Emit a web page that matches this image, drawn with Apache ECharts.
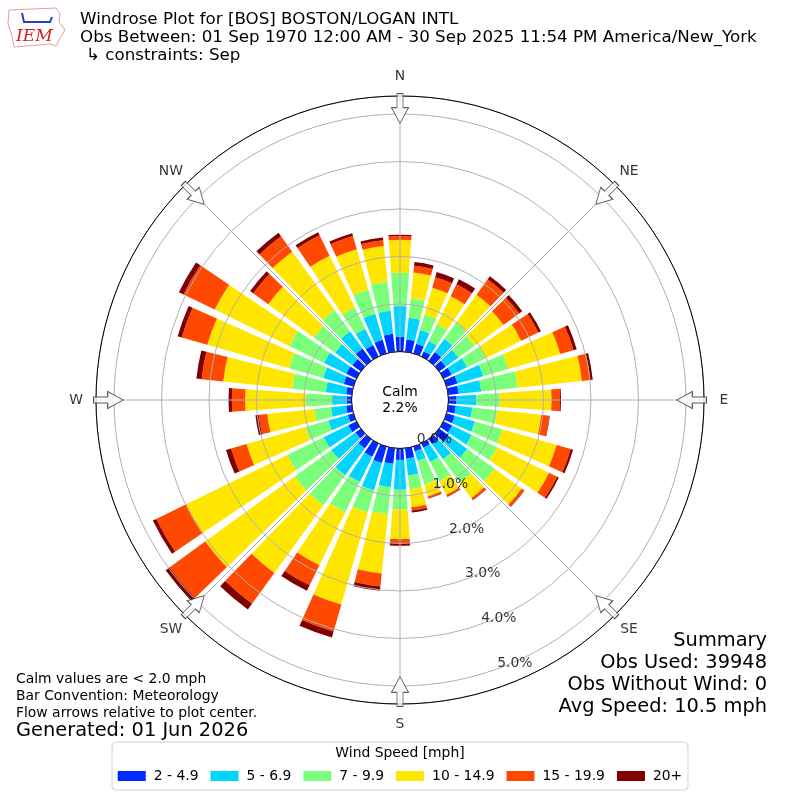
<!DOCTYPE html>
<html>
<head>
<meta charset="utf-8">
<script src="https://cdn.jsdelivr.net/npm/echarts@6/dist/echarts.min.js"></script>
<style>
  html, body { margin: 0; padding: 0; background: #fff; }
  #chart { width: 800px; height: 800px; }
</style>
</head>
<body>
<div id="chart"></div>
<script>
// direction bins (degrees, meteorological "from")
const dirs = [0, 10, 20, 30, 40, 50, 60, 70, 80, 90, 100, 110, 120, 130, 140, 150, 160, 170,
  180, 190, 200, 210, 220, 230, 240, 250, 260, 270, 280, 290, 300, 310, 320, 330, 340, 350]

// percent of obs per speed bin, one value per direction
const speed2to5 = [0.31, 0.26, 0.21, 0.12, 0.23, 0.17, 0.19, 0.24, 0.22, 0.17, 0.16, 0.18, 0.20, 0.25, 0.13, 0.10, 0.10, 0.22,
  0.24, 0.33, 0.36, 0.31, 0.24, 0.14, 0.19, 0.12, 0.12, 0.10, 0.12, 0.21, 0.24, 0.22, 0.32, 0.27, 0.30, 0.38]
const speed5to7 = [0.65, 0.46, 0.30, 0.24, 0.34, 0.33, 0.36, 0.56, 0.48, 0.42, 0.35, 0.44, 0.46, 0.48, 0.39, 0.33, 0.21, 0.36,
  0.63, 0.50, 0.60, 0.59, 0.70, 0.63, 0.58, 0.43, 0.32, 0.31, 0.43, 0.45, 0.52, 0.45, 0.45, 0.38, 0.57, 0.49]
const speed7to10 = [0.70, 0.41, 0.34, 0.40, 0.43, 0.42, 0.44, 0.55, 0.77, 0.49, 0.53, 0.60, 0.59, 0.71, 0.61, 0.45, 0.52, 0.29,
  0.42, 0.57, 0.48, 0.71, 0.78, 0.95, 0.85, 0.50, 0.36, 0.55, 0.71, 0.75, 0.81, 0.55, 0.55, 0.50, 0.53, 0.61]
const speed10to15 = [0.69, 0.55, 0.59, 0.65, 0.72, 0.75, 0.83, 1.14, 1.36, 1.09, 0.93, 1.19, 1.22, 0.71, 0.40, 0.32, 0.26, 0.38,
  0.62, 1.25, 2.02, 1.24, 1.76, 2.33, 2.37, 1.29, 0.99, 1.28, 1.46, 1.79, 1.75, 1.19, 1.52, 1.21, 0.88, 0.76]
const speed15to20 = [0.08, 0.14, 0.23, 0.28, 0.40, 0.41, 0.40, 0.29, 0.18, 0.18, 0.17, 0.31, 0.19, 0.06, 0.05, 0.04, 0.04, 0.07,
  0.08, 0.28, 0.59, 0.47, 0.80, 0.93, 0.70, 0.34, 0.18, 0.28, 0.46, 0.56, 0.73, 0.39, 0.40, 0.48, 0.29, 0.12]
const speed20up = [0.03, 0.08, 0.11, 0.12, 0.08, 0.08, 0.06, 0.07, 0.05, 0.02, 0.01, 0.05, 0.04, 0.01, 0.01, 0.01, 0.01, 0.04,
  0.06, 0.09, 0.13, 0.13, 0.15, 0.10, 0.08, 0.11, 0.07, 0.07, 0.11, 0.09, 0.11, 0.08, 0.09, 0.07, 0.06, 0.06]

const binNames = ['2 - 4.9', '5 - 6.9', '7 - 9.9', '10 - 14.9', '15 - 19.9', '20+']
const binColors = ['#002aff', '#00d4ff', '#7bff7b', '#ffe600', '#ff4800', '#800000']

const compassAngles = [0, 45, 90, 135, 180, 225, 270, 315]
const compassNames = ['N', 'NE', 'E', 'SE', 'S', 'SW', 'W', 'NW']
const radiusTicks = [0, 1, 2, 3, 4, 5]

const calmPct = 2.2
const titleLines = [
  'Windrose Plot for [BOS] BOSTON/LOGAN INTL',
  'Obs Between: 01 Sep 1970 12:00 AM - 30 Sep 2025 11:54 PM America/New_York',
  '\u21b3 constraints: Sep'
]
const summaryLines = ['Summary', 'Obs Used: 39948', 'Obs Without Wind: 0', 'Avg Speed: 10.5 mph']
const noteLines = ['Calm values are < 2.0 mph', 'Bar Convention: Meteorology', 'Flow arrows relative to plot center.']

const FONT = 'DejaVu Sans'
const R_INNER = 48.5
const R_OUTER = 304
const R_MAX = 5.38
// px per percent = (R_OUTER - R_INNER) / R_MAX ; label polar reaches further out
const R_LABEL_OUTER = 340
const R_LABEL_MAX = (R_LABEL_OUTER - R_INNER) / ((R_OUTER - R_INNER) / R_MAX)

var myChart = echarts.init(document.getElementById('chart'))

const binData = [speed2to5, speed5to7, speed7to10, speed10to15, speed15to20, speed20up]

var barSeries = binNames.map((name, i) => {
  return {
    name: name,
    type: 'bar',
    coordinateSystem: 'polar',
    polarIndex: 0,
    stack: 'speed',
    barCategoryGap: '20%',
    data: binData[i],
    itemStyle: { color: binColors[i] },
    z: 2
  }
})

var graphics = []
titleLines.forEach((t, i) => {
  graphics.push({
    type: 'text', left: i == 2 ? 86 : 80, top: 11 + i * 18,
    style: { text: t, font: '16.7px "' + FONT + '"', fill: '#000' }
  })
})
summaryLines.forEach((t, i) => {
  graphics.push({
    type: 'text', right: 33, top: 631 + i * 22,
    style: { text: t, font: '19.4px "' + FONT + '"', fill: '#000' }
  })
})
noteLines.forEach((t, i) => {
  graphics.push({
    type: 'text', left: 16, top: 672 + i * 17,
    style: { text: t, font: '13.9px "' + FONT + '"', fill: '#000' }
  })
})
graphics.push({
  type: 'text', left: 16, top: 721,
  style: { text: 'Generated: 01 Jun 2026', font: '19.4px "' + FONT + '"', fill: '#000' }
})
// calm text in the hole
graphics.push({
  type: 'text', x: 400, y: 400,
  style: { text: 'Calm\n' + calmPct.toFixed(1) + '%', font: '13.9px "' + FONT + '"', fill: '#000',
    align: 'center', verticalAlign: 'middle', lineHeight: 16 },
  z: 20
})
// legend frame + title
graphics.push({
  type: 'rect', shape: { x: 112, y: 742, width: 576, height: 48, r: 4 },
  style: { fill: '#fff', stroke: '#d0d0d0', lineWidth: 1 }, z: 0
})
graphics.push({
  type: 'text', x: 400, y: 753,
  style: { text: 'Wind Speed [mph]', font: '13.9px "' + FONT + '"', fill: '#000', align: 'center', verticalAlign: 'middle' },
  z: 1
})
// rough IEM logo
graphics.push({
  type: 'polygon',
  shape: { points: [[9, 10], [56, 8], [60, 14], [59, 22], [65, 30], [60, 38], [56, 46], [50, 44], [14, 47], [12, 36], [8, 24]] },
  style: { fill: '#fff', stroke: '#e3a0a0', lineWidth: 1 }
})
graphics.push({
  type: 'polyline',
  shape: { points: [[22, 13], [24, 22], [50, 22], [52, 17]] },
  style: { stroke: '#2a3fc0', lineWidth: 2, fill: null }
})
graphics.push({
  type: 'text', left: 16, top: 28,
  style: { text: 'IEM', font: 'italic 17px "DejaVu Serif"', fill: '#d02020' }
})

const option = {
  animation: false,
  backgroundColor: '#fff',
  textStyle: { fontFamily: FONT },
  polar: [
    { center: [400, 400], radius: [R_INNER, R_OUTER] },
    { center: [400, 400], radius: [R_INNER, R_OUTER] },
    { center: [400, 400], radius: [R_INNER, R_LABEL_OUTER] }
  ],
  angleAxis: [
    {
      polarIndex: 0,
      type: 'category',
      data: dirs,
      startAngle: 95,
      clockwise: true,
      show: false
    },
    {
      polarIndex: 1,
      type: 'value',
      min: 0,
      max: 360,
      interval: 45,
      startAngle: 90,
      clockwise: true,
      z: 4,
      axisLine: { show: true, lineStyle: { color: '#000', width: 1 } },
      axisTick: { show: false },
      axisLabel: { show: false },
      splitLine: { show: true, lineStyle: { color: '#b0b0b0', width: 1 } }
    },
    {
      polarIndex: 2,
      type: 'value',
      min: 0,
      max: 360,
      startAngle: 90,
      clockwise: true,
      show: false
    }
  ],
  radiusAxis: [
    { polarIndex: 0, type: 'value', min: 0, max: R_MAX, show: false },
    {
      polarIndex: 1,
      type: 'value',
      min: 0,
      max: R_MAX,
      interval: 1,
      z: 3,
      axisLine: { show: false },
      axisTick: { show: false },
      axisLabel: { show: false },
      splitLine: { show: true, lineStyle: { color: '#b0b0b0', width: 1 } }
    },
    { polarIndex: 2, type: 'value', min: 0, max: R_LABEL_MAX, show: false }
  ],
  legend: {
    data: binNames,
    left: 'center',
    top: 764,
    icon: 'rect',
    itemWidth: 28,
    itemHeight: 10,
    itemGap: 12,
    z: 5,
    textStyle: { fontSize: 13.9, color: '#000', fontFamily: FONT, padding: [0, 0, 0, 3] }
  },
  graphic: graphics,
  series: barSeries.concat([
    {
      // flow arrows at compass points
      type: 'scatter',
      coordinateSystem: 'polar',
      polarIndex: 1,
      data: compassAngles.map(a => [5.12, a]),
      symbol: 'path://M5.5,0 L11.5,0 L11.5,14 L17,14 L8.5,29.5 L0,14 L5.5,14 Z',
      symbolSize: [17, 29.5],
      symbolRotate: (val) => -val[1],
      itemStyle: { color: '#fff', borderColor: '#333', borderWidth: 1 },
      silent: true,
      z: 10
    },
    {
      // compass point labels just outside the ring
      type: 'scatter',
      coordinateSystem: 'polar',
      polarIndex: 2,
      data: compassAngles.map(a => [5.8, a]),
      symbolSize: 0,
      label: {
        show: true,
        position: 'inside',
        fontSize: 13.9,
        color: '#000',
        formatter: (p) => compassNames[p.dataIndex]
      },
      silent: true,
      z: 11
    },
    {
      // radial tick labels
      type: 'scatter',
      coordinateSystem: 'polar',
      polarIndex: 1,
      data: radiusTicks.map(v => [v, 160.2]),
      symbolSize: 0,
      label: {
        show: true,
        position: 'inside',
        offset: [18, -6],
        fontSize: 13.9,
        color: '#000',
        formatter: (p) => p.value[0].toFixed(1) + '%'
      },
      silent: true,
      z: 11
    }
  ])
}

myChart.setOption(option)
</script>
</body>
</html>
